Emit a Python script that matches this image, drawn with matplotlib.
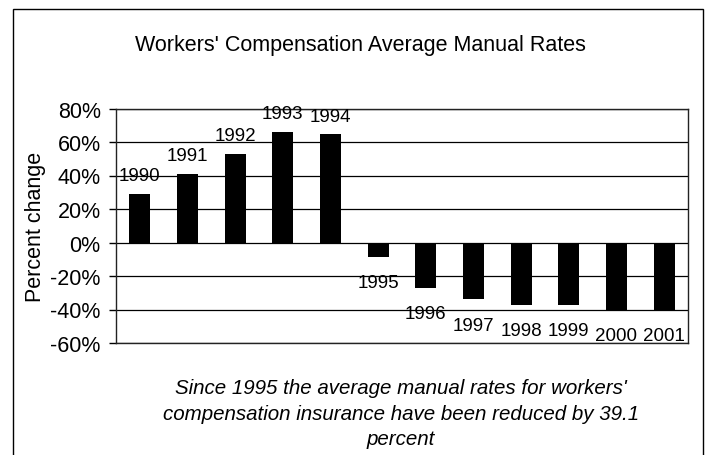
import matplotlib
matplotlib.use('Agg')
import matplotlib.pyplot as plt
from matplotlib.patches import Rectangle
from matplotlib.ticker import FuncFormatter

# data
years = ['1990', '1991', '1992', '1993', '1994', '1995', '1996',
         '1997', '1998', '1999', '2000', '2001']
pct_change = [29, 41, 53, 66, 64.5, -8.5, -27, -34, -37.3, -37.3, -40, -40]
y_ticks = [-60, -40, -20, 0, 20, 40, 60, 80]

title = "Workers' Compensation Average Manual Rates"
note = ("Since 1995 the average manual rates for workers'\n"
        "compensation insurance have been reduced by 39.1\n"
        "percent")

plt.rcParams['font.family'] = ['Liberation Sans', 'DejaVu Sans']

W, H = 708, 456
fig = plt.figure(figsize=(W / 100, H / 100), dpi=100)

# outer frame around the whole chart (bottom edge runs off the image)
fig.patches.append(Rectangle((12.5 / W, -0.05), (703 - 12.5) / W, 1.05 - 9.5 / H,
                             transform=fig.transFigure, fill=False,
                             edgecolor='black', linewidth=1.0))

ax = fig.add_axes([116 / W, 1 - 344 / H, (688 - 116) / W, (344 - 109.5) / H])

x = range(len(years))
ax.bar(x, pct_change, width=0.44, color='black', zorder=3)

ax.set_xlim(-0.5, len(years) - 0.5)
ax.set_ylim(-60, 80)
ax.set_yticks(y_ticks)
ax.yaxis.set_major_formatter(FuncFormatter(lambda v, p: f'{v:.0f}%'))
ax.set_xticks([])
ax.tick_params(axis='y', direction='out', length=5, width=1, labelsize=15.5, pad=6)
ax.grid(axis='y', color='black', linewidth=0.9, zorder=0)
for s in ax.spines.values():
    s.set_linewidth(1.0)
    s.set_color('#222222')

for i, v in enumerate(pct_change):
    if v >= 0:
        ax.annotate(years[i], (i, v), xytext=(0, 13), textcoords='offset points',
                    ha='center', va='center', fontsize=13.5)
    else:
        ax.annotate(years[i], (i, v), xytext=(0, -18.5), textcoords='offset points',
                    ha='center', va='center', fontsize=13.5)

ax.set_ylabel('Percent change', fontsize=15.5, labelpad=3)

fig.text(360 / W, 1 - 45 / H, title, ha='center', va='center', fontsize=15.5)
fig.text(401 / W, 1 - 414 / H, note, ha='center', va='center', fontsize=14.8,
         style='italic', linespacing=1.45)

fig.savefig('out.png', dpi=100)
